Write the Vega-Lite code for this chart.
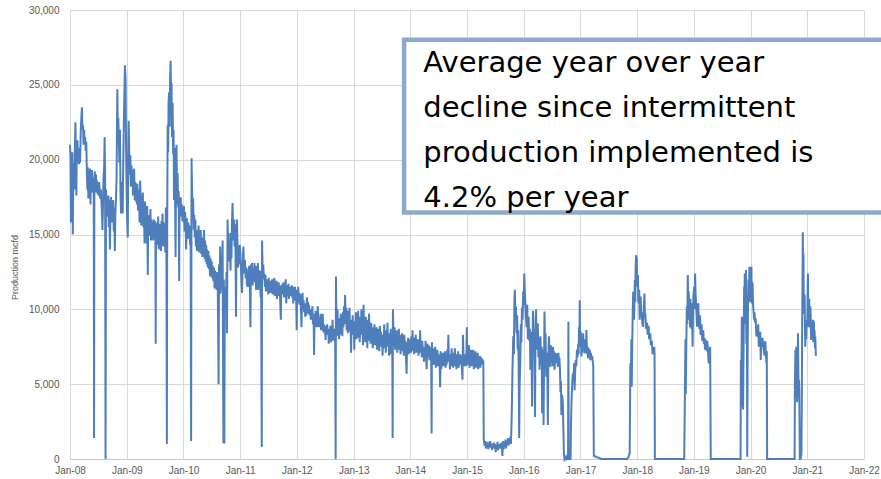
{
"$schema": "https://vega.github.io/schema/vega-lite/v6.json",
"width": 794, "height": 449,
"autosize": "none",
"padding": {"left": 70, "top": 10, "right": 17, "bottom": 20},
"background": "white",
"config": {"view": {"stroke": null}, "axis": {"gridColor": "#d9d9d9", "gridWidth": 1, "labelColor": "#595959", "labelFont": "Liberation Sans", "labelFontSize": 10, "ticks": false, "domain": false, "titleFont": "Liberation Sans", "titleFontWeight": "normal", "titleColor": "#595959"},
 "axisX": {"format": "%b-%y", "formatType": "utc", "labelPadding": 6, "domain": true, "domainColor": "#c8c8c8", "labelFlush": false, "labelOverlap": false},
 "axisY": {"format": ",.0f", "labelPadding": 11, "titleFontSize": 9, "titleX": -56, "titleY": 257, "titleBaseline": "middle", "tickCount": 6}},
"layer": [
{
"data": {"values": [
{"d":"2008-01-01","v":21000},{"d":"2008-01-04","v":20200},{"d":"2008-01-07","v":15800},{"d":"2008-01-10","v":19500},{"d":"2008-01-13","v":17800},{"d":"2008-01-16","v":20500},{"d":"2008-01-19","v":15000},{"d":"2008-01-22","v":18500},{"d":"2008-01-25","v":19800},{"d":"2008-01-29","v":18000},
{"d":"2008-02-01","v":20500},{"d":"2008-02-05","v":22500},{"d":"2008-02-08","v":19500},{"d":"2008-02-11","v":17600},{"d":"2008-02-14","v":21000},{"d":"2008-02-18","v":21300},{"d":"2008-02-21","v":19800},{"d":"2008-02-25","v":20800},{"d":"2008-02-28","v":19700},
{"d":"2008-03-03","v":20500},{"d":"2008-03-06","v":19800},{"d":"2008-03-10","v":21800},{"d":"2008-03-14","v":22800},{"d":"2008-03-18","v":23500},{"d":"2008-03-21","v":22000},{"d":"2008-03-25","v":22300},{"d":"2008-03-28","v":21000},
{"d":"2008-04-01","v":22000},{"d":"2008-04-04","v":21200},{"d":"2008-04-08","v":21500},{"d":"2008-04-11","v":20600},{"d":"2008-04-15","v":21200},{"d":"2008-04-18","v":19500},{"d":"2008-04-22","v":18000},{"d":"2008-04-25","v":19500},{"d":"2008-04-28","v":17400},
{"d":"2008-05-02","v":19000},{"d":"2008-05-05","v":18200},{"d":"2008-05-09","v":19400},{"d":"2008-05-12","v":17000},{"d":"2008-05-15","v":19200},{"d":"2008-05-19","v":18000},{"d":"2008-05-22","v":19300},{"d":"2008-05-26","v":17800},{"d":"2008-05-29","v":18800},
{"d":"2008-06-02","v":17500},{"d":"2008-06-04","v":1400},{"d":"2008-06-06","v":18200},{"d":"2008-06-09","v":19200},{"d":"2008-06-13","v":17800},{"d":"2008-06-16","v":19000},{"d":"2008-06-20","v":18000},{"d":"2008-06-23","v":18600},{"d":"2008-06-27","v":17700},{"d":"2008-06-30","v":18200},
{"d":"2008-07-04","v":17600},{"d":"2008-07-07","v":18500},{"d":"2008-07-11","v":17700},{"d":"2008-07-14","v":17400},{"d":"2008-07-18","v":18000},{"d":"2008-07-21","v":17300},{"d":"2008-07-25","v":16400},{"d":"2008-07-28","v":15300},
{"d":"2008-08-01","v":17200},{"d":"2008-08-04","v":18800},{"d":"2008-08-08","v":19500},{"d":"2008-08-11","v":21500},{"d":"2008-08-14","v":19000},{"d":"2008-08-17","v":0},{"d":"2008-08-20","v":18000},{"d":"2008-08-24","v":16500},{"d":"2008-08-27","v":17500},{"d":"2008-08-31","v":16200},
{"d":"2008-09-04","v":17600},{"d":"2008-09-07","v":15500},{"d":"2008-09-11","v":17300},{"d":"2008-09-14","v":14000},{"d":"2008-09-18","v":16800},{"d":"2008-09-21","v":17500},{"d":"2008-09-25","v":15800},{"d":"2008-09-28","v":17200},
{"d":"2008-10-02","v":16400},{"d":"2008-10-05","v":17300},{"d":"2008-10-09","v":15200},{"d":"2008-10-12","v":16800},{"d":"2008-10-16","v":13900},{"d":"2008-10-19","v":16400},{"d":"2008-10-23","v":17300},{"d":"2008-10-27","v":18800},{"d":"2008-10-30","v":22500},
{"d":"2008-11-01","v":24700},{"d":"2008-11-04","v":21000},{"d":"2008-11-07","v":22800},{"d":"2008-11-11","v":21300},{"d":"2008-11-14","v":19800},{"d":"2008-11-18","v":22000},{"d":"2008-11-21","v":17800},{"d":"2008-11-25","v":16400},{"d":"2008-11-28","v":18500},
{"d":"2008-12-02","v":17500},{"d":"2008-12-05","v":16400},{"d":"2008-12-09","v":19800},{"d":"2008-12-13","v":22500},{"d":"2008-12-17","v":24800},{"d":"2008-12-20","v":26300},{"d":"2008-12-24","v":25300},{"d":"2008-12-27","v":21000},{"d":"2008-12-30","v":18500},
{"d":"2009-01-03","v":16000},{"d":"2009-01-07","v":14800},{"d":"2009-01-10","v":20200},{"d":"2009-01-13","v":22600},{"d":"2009-01-17","v":20000},{"d":"2009-01-20","v":19000},{"d":"2009-01-24","v":20300},{"d":"2009-01-27","v":18200},{"d":"2009-01-31","v":19600},
{"d":"2009-02-03","v":18500},{"d":"2009-02-07","v":19300},{"d":"2009-02-10","v":17600},{"d":"2009-02-14","v":18800},{"d":"2009-02-17","v":19400},{"d":"2009-02-21","v":17300},{"d":"2009-02-24","v":18500},{"d":"2009-02-28","v":17200},
{"d":"2009-03-03","v":18300},{"d":"2009-03-07","v":17000},{"d":"2009-03-10","v":18400},{"d":"2009-03-14","v":16600},{"d":"2009-03-17","v":17600},{"d":"2009-03-21","v":18000},{"d":"2009-03-24","v":15800},{"d":"2009-03-28","v":18600},{"d":"2009-03-31","v":17300},
{"d":"2009-04-04","v":15600},{"d":"2009-04-07","v":17600},{"d":"2009-04-11","v":16400},{"d":"2009-04-14","v":17800},{"d":"2009-04-18","v":15500},{"d":"2009-04-21","v":17000},{"d":"2009-04-25","v":14400},{"d":"2009-04-28","v":17200},
{"d":"2009-05-02","v":15400},{"d":"2009-05-05","v":16200},{"d":"2009-05-09","v":14400},{"d":"2009-05-12","v":16900},{"d":"2009-05-16","v":12300},{"d":"2009-05-19","v":16300},{"d":"2009-05-23","v":14900},{"d":"2009-05-27","v":16000},{"d":"2009-05-30","v":15400},
{"d":"2009-06-02","v":16700},{"d":"2009-06-06","v":14600},{"d":"2009-06-09","v":16000},{"d":"2009-06-13","v":15100},{"d":"2009-06-16","v":15800},{"d":"2009-06-20","v":14600},{"d":"2009-06-24","v":16000},{"d":"2009-06-27","v":15300},
{"d":"2009-07-01","v":15900},{"d":"2009-07-04","v":14800},{"d":"2009-07-06","v":7700},{"d":"2009-07-08","v":15500},{"d":"2009-07-12","v":14900},{"d":"2009-07-15","v":15800},{"d":"2009-07-19","v":14300},{"d":"2009-07-22","v":16200},{"d":"2009-07-26","v":14000},{"d":"2009-07-29","v":15500},
{"d":"2009-08-02","v":14400},{"d":"2009-08-05","v":15700},{"d":"2009-08-09","v":13900},{"d":"2009-08-12","v":15900},{"d":"2009-08-16","v":14600},{"d":"2009-08-19","v":16400},{"d":"2009-08-23","v":14200},{"d":"2009-08-26","v":15800},{"d":"2009-08-30","v":14500},
{"d":"2009-09-02","v":15500},{"d":"2009-09-06","v":13800},{"d":"2009-09-10","v":16800},{"d":"2009-09-13","v":14000},{"d":"2009-09-16","v":1000},{"d":"2009-09-18","v":15500},{"d":"2009-09-21","v":22300},{"d":"2009-09-24","v":20500},{"d":"2009-09-27","v":23800},{"d":"2009-09-30","v":24500},
{"d":"2009-10-04","v":22200},{"d":"2009-10-07","v":25500},{"d":"2009-10-10","v":26600},{"d":"2009-10-13","v":24200},{"d":"2009-10-16","v":25100},{"d":"2009-10-19","v":21500},{"d":"2009-10-23","v":23800},{"d":"2009-10-26","v":20400},{"d":"2009-10-29","v":22000},
{"d":"2009-11-01","v":17300},{"d":"2009-11-04","v":20800},{"d":"2009-11-07","v":18300},{"d":"2009-11-11","v":13500},{"d":"2009-11-14","v":18900},{"d":"2009-11-17","v":21000},{"d":"2009-11-21","v":17000},{"d":"2009-11-24","v":19100},{"d":"2009-11-28","v":16800},
{"d":"2009-12-01","v":17900},{"d":"2009-12-04","v":11900},{"d":"2009-12-07","v":17200},{"d":"2009-12-11","v":16200},{"d":"2009-12-14","v":17500},{"d":"2009-12-18","v":16300},{"d":"2009-12-21","v":17000},{"d":"2009-12-25","v":15900},{"d":"2009-12-28","v":16800},
{"d":"2010-01-01","v":15800},{"d":"2010-01-04","v":16900},{"d":"2010-01-08","v":15200},{"d":"2010-01-11","v":16500},{"d":"2010-01-15","v":15700},{"d":"2010-01-18","v":14000},{"d":"2010-01-22","v":16100},{"d":"2010-01-25","v":15300},{"d":"2010-01-29","v":14700},
{"d":"2010-02-01","v":15800},{"d":"2010-02-05","v":14900},{"d":"2010-02-09","v":15600},{"d":"2010-02-13","v":14300},{"d":"2010-02-16","v":15000},{"d":"2010-02-19","v":1200},{"d":"2010-02-22","v":20100},{"d":"2010-02-25","v":18000},
{"d":"2010-03-01","v":16500},{"d":"2010-03-04","v":17400},{"d":"2010-03-08","v":15300},{"d":"2010-03-11","v":16300},{"d":"2010-03-15","v":14800},{"d":"2010-03-18","v":16000},{"d":"2010-03-22","v":14200},{"d":"2010-03-25","v":15300},{"d":"2010-03-29","v":13900},
{"d":"2010-04-01","v":15100},{"d":"2010-04-05","v":14400},{"d":"2010-04-08","v":15600},{"d":"2010-04-12","v":13800},{"d":"2010-04-15","v":15100},{"d":"2010-04-19","v":14400},{"d":"2010-04-22","v":15300},{"d":"2010-04-26","v":13700},{"d":"2010-04-29","v":14800},
{"d":"2010-05-03","v":13500},{"d":"2010-05-06","v":14800},{"d":"2010-05-10","v":13900},{"d":"2010-05-13","v":15300},{"d":"2010-05-17","v":13400},{"d":"2010-05-20","v":14600},{"d":"2010-05-24","v":13200},{"d":"2010-05-27","v":14300},{"d":"2010-05-31","v":13000},
{"d":"2010-06-03","v":14000},{"d":"2010-06-07","v":12800},{"d":"2010-06-10","v":13900},{"d":"2010-06-14","v":12700},{"d":"2010-06-17","v":13600},{"d":"2010-06-21","v":12200},{"d":"2010-06-24","v":13400},{"d":"2010-06-28","v":12600},
{"d":"2010-07-02","v":13200},{"d":"2010-07-05","v":12100},{"d":"2010-07-09","v":12900},{"d":"2010-07-12","v":11900},{"d":"2010-07-16","v":12800},{"d":"2010-07-20","v":11400},{"d":"2010-07-23","v":12600},{"d":"2010-07-26","v":11800},{"d":"2010-07-30","v":12400},
{"d":"2010-08-02","v":11300},{"d":"2010-08-06","v":12500},{"d":"2010-08-10","v":11400},{"d":"2010-08-15","v":5000},{"d":"2010-08-18","v":13000},{"d":"2010-08-22","v":11000},{"d":"2010-08-25","v":14200},{"d":"2010-08-28","v":11100},
{"d":"2010-09-01","v":13000},{"d":"2010-09-05","v":11800},{"d":"2010-09-10","v":14600},{"d":"2010-09-15","v":1050},{"d":"2010-09-18","v":12000},{"d":"2010-09-21","v":1030},{"d":"2010-09-24","v":11500},{"d":"2010-09-28","v":10800},
{"d":"2010-10-02","v":10800},{"d":"2010-10-05","v":12500},{"d":"2010-10-08","v":8400},{"d":"2010-10-12","v":16000},{"d":"2010-10-15","v":14200},{"d":"2010-10-19","v":15100},{"d":"2010-10-22","v":13200},{"d":"2010-10-25","v":14000},{"d":"2010-10-28","v":13900},{"d":"2010-10-31","v":12600},
{"d":"2010-11-03","v":15100},{"d":"2010-11-06","v":13400},{"d":"2010-11-09","v":15800},{"d":"2010-11-13","v":17100},{"d":"2010-11-16","v":15300},{"d":"2010-11-20","v":14600},{"d":"2010-11-23","v":16000},{"d":"2010-11-26","v":14200},{"d":"2010-11-29","v":15700},
{"d":"2010-12-02","v":13800},{"d":"2010-12-05","v":9500},{"d":"2010-12-08","v":14500},{"d":"2010-12-11","v":16000},{"d":"2010-12-15","v":14300},{"d":"2010-12-18","v":12800},{"d":"2010-12-22","v":14200},{"d":"2010-12-25","v":13000},{"d":"2010-12-29","v":14300},
{"d":"2011-01-01","v":14000},{"d":"2011-01-05","v":13000},{"d":"2011-01-09","v":12000},{"d":"2011-01-13","v":11100},{"d":"2011-01-17","v":13000},{"d":"2011-01-22","v":14200},{"d":"2011-01-26","v":12400},
{"d":"2011-02-01","v":13300},{"d":"2011-02-05","v":12100},{"d":"2011-02-09","v":12800},{"d":"2011-02-13","v":11700},{"d":"2011-02-19","v":11500},{"d":"2011-02-23","v":12600},
{"d":"2011-03-01","v":12900},{"d":"2011-03-04","v":11800},{"d":"2011-03-08","v":8800},{"d":"2011-03-11","v":13000},{"d":"2011-03-15","v":12000},{"d":"2011-03-18","v":13100},{"d":"2011-03-22","v":11600},{"d":"2011-03-26","v":12700},{"d":"2011-03-30","v":11900},
{"d":"2011-04-03","v":13100},{"d":"2011-04-07","v":11800},{"d":"2011-04-10","v":12600},{"d":"2011-04-14","v":11300},{"d":"2011-04-17","v":12900},{"d":"2011-04-21","v":11800},{"d":"2011-04-25","v":13100},{"d":"2011-04-28","v":11300},
{"d":"2011-05-02","v":12400},{"d":"2011-05-05","v":11700},{"d":"2011-05-09","v":12600},{"d":"2011-05-13","v":10800},{"d":"2011-05-16","v":11900},{"d":"2011-05-20","v":800},{"d":"2011-05-22","v":14600},{"d":"2011-05-26","v":12400},{"d":"2011-05-30","v":13000},
{"d":"2011-06-02","v":12000},{"d":"2011-06-06","v":12400},{"d":"2011-06-09","v":11500},{"d":"2011-06-13","v":12300},{"d":"2011-06-16","v":11200},{"d":"2011-06-20","v":12000},{"d":"2011-06-23","v":11300},{"d":"2011-06-27","v":11800},
{"d":"2011-07-01","v":11000},{"d":"2011-07-04","v":12100},{"d":"2011-07-08","v":11200},{"d":"2011-07-11","v":11700},{"d":"2011-07-15","v":11100},{"d":"2011-07-18","v":11900},{"d":"2011-07-22","v":11500},{"d":"2011-07-26","v":12000},{"d":"2011-07-29","v":11000},
{"d":"2011-08-02","v":11800},{"d":"2011-08-05","v":11300},{"d":"2011-08-09","v":12100},{"d":"2011-08-12","v":10900},{"d":"2011-08-16","v":11700},{"d":"2011-08-19","v":11200},{"d":"2011-08-23","v":11900},{"d":"2011-08-26","v":10700},{"d":"2011-08-30","v":11500},
{"d":"2011-09-02","v":11100},{"d":"2011-09-06","v":11800},{"d":"2011-09-09","v":10900},{"d":"2011-09-13","v":11600},{"d":"2011-09-16","v":10500},{"d":"2011-09-20","v":9300},{"d":"2011-09-23","v":11600},{"d":"2011-09-27","v":11000},{"d":"2011-09-30","v":11700},
{"d":"2011-10-04","v":11100},{"d":"2011-10-07","v":11800},{"d":"2011-10-11","v":10800},{"d":"2011-10-14","v":11400},{"d":"2011-10-18","v":11000},{"d":"2011-10-21","v":12000},{"d":"2011-10-25","v":10400},{"d":"2011-10-28","v":11300},
{"d":"2011-11-01","v":11600},{"d":"2011-11-04","v":10900},{"d":"2011-11-08","v":11700},{"d":"2011-11-11","v":10700},{"d":"2011-11-15","v":11500},{"d":"2011-11-18","v":10900},{"d":"2011-11-22","v":11400},{"d":"2011-11-25","v":11000},{"d":"2011-11-29","v":11600},
{"d":"2011-12-02","v":10800},{"d":"2011-12-06","v":11500},{"d":"2011-12-09","v":10400},{"d":"2011-12-13","v":11200},{"d":"2011-12-16","v":11000},{"d":"2011-12-20","v":11500},{"d":"2011-12-23","v":10600},{"d":"2011-12-27","v":11300},{"d":"2011-12-31","v":8600},
{"d":"2012-01-03","v":11000},{"d":"2012-01-06","v":10400},{"d":"2012-01-10","v":11500},{"d":"2012-01-13","v":10700},{"d":"2012-01-17","v":11100},{"d":"2012-01-20","v":10300},{"d":"2012-01-24","v":11000},{"d":"2012-01-27","v":10100},{"d":"2012-01-31","v":8800},
{"d":"2012-02-03","v":10600},{"d":"2012-02-07","v":11100},{"d":"2012-02-10","v":10000},{"d":"2012-02-14","v":10600},{"d":"2012-02-17","v":9800},{"d":"2012-02-21","v":10400},{"d":"2012-02-24","v":9500},{"d":"2012-02-28","v":10100},
{"d":"2012-03-02","v":9600},{"d":"2012-03-06","v":10800},{"d":"2012-03-09","v":9900},{"d":"2012-03-13","v":10500},{"d":"2012-03-16","v":9700},{"d":"2012-03-20","v":10300},{"d":"2012-03-23","v":9600},{"d":"2012-03-27","v":10000},{"d":"2012-03-31","v":9300},
{"d":"2012-04-03","v":9900},{"d":"2012-04-07","v":9400},{"d":"2012-04-10","v":10200},{"d":"2012-04-14","v":9000},{"d":"2012-04-18","v":9700},{"d":"2012-04-21","v":6950},{"d":"2012-04-24","v":9700},{"d":"2012-04-28","v":9000},
{"d":"2012-05-01","v":9900},{"d":"2012-05-05","v":8800},{"d":"2012-05-08","v":9500},{"d":"2012-05-12","v":8900},{"d":"2012-05-15","v":10200},{"d":"2012-05-19","v":8800},{"d":"2012-05-22","v":9300},{"d":"2012-05-26","v":9500},{"d":"2012-05-29","v":8800},
{"d":"2012-06-02","v":9700},{"d":"2012-06-05","v":8600},{"d":"2012-06-09","v":9300},{"d":"2012-06-12","v":8700},{"d":"2012-06-16","v":9700},{"d":"2012-06-19","v":8500},{"d":"2012-06-23","v":9000},{"d":"2012-06-26","v":8400},{"d":"2012-06-30","v":8900},
{"d":"2012-07-04","v":7950},{"d":"2012-07-07","v":8800},{"d":"2012-07-11","v":8300},{"d":"2012-07-14","v":9000},{"d":"2012-07-18","v":8400},{"d":"2012-07-21","v":8700},{"d":"2012-07-25","v":7700},{"d":"2012-07-28","v":8600},
{"d":"2012-08-01","v":8200},{"d":"2012-08-04","v":8900},{"d":"2012-08-08","v":7800},{"d":"2012-08-11","v":8600},{"d":"2012-08-15","v":8200},{"d":"2012-08-18","v":9300},{"d":"2012-08-22","v":7900},{"d":"2012-08-25","v":8500},{"d":"2012-08-29","v":8000},
{"d":"2012-09-01","v":8700},{"d":"2012-09-04","v":7900},{"d":"2012-09-07","v":0},{"d":"2012-09-09","v":12200},{"d":"2012-09-12","v":9200},{"d":"2012-09-15","v":8300},{"d":"2012-09-19","v":10000},{"d":"2012-09-22","v":8200},{"d":"2012-09-26","v":9400},{"d":"2012-09-29","v":8000},
{"d":"2012-10-03","v":9100},{"d":"2012-10-06","v":8300},{"d":"2012-10-10","v":9700},{"d":"2012-10-13","v":8600},{"d":"2012-10-17","v":9300},{"d":"2012-10-20","v":8200},{"d":"2012-10-24","v":9800},{"d":"2012-10-27","v":8800},{"d":"2012-10-31","v":10200},
{"d":"2012-11-03","v":9000},{"d":"2012-11-07","v":10950},{"d":"2012-11-10","v":9400},{"d":"2012-11-14","v":10100},{"d":"2012-11-17","v":8600},{"d":"2012-11-21","v":9900},{"d":"2012-11-24","v":8400},{"d":"2012-11-28","v":9500},
{"d":"2012-12-01","v":8500},{"d":"2012-12-05","v":10100},{"d":"2012-12-08","v":8700},{"d":"2012-12-12","v":9300},{"d":"2012-12-15","v":7100},{"d":"2012-12-19","v":9200},{"d":"2012-12-22","v":8400},{"d":"2012-12-26","v":9600},{"d":"2012-12-29","v":8300},
{"d":"2013-01-02","v":9000},{"d":"2013-01-05","v":7300},{"d":"2013-01-09","v":9200},{"d":"2013-01-12","v":8300},{"d":"2013-01-16","v":9800},{"d":"2013-01-19","v":8000},{"d":"2013-01-23","v":9400},{"d":"2013-01-26","v":8700},{"d":"2013-01-30","v":9900},
{"d":"2013-02-02","v":8100},{"d":"2013-02-06","v":9500},{"d":"2013-02-09","v":7800},{"d":"2013-02-13","v":9200},{"d":"2013-02-16","v":8500},{"d":"2013-02-20","v":10000},{"d":"2013-02-23","v":8300},{"d":"2013-02-27","v":9100},
{"d":"2013-03-02","v":7600},{"d":"2013-03-06","v":10300},{"d":"2013-03-09","v":8400},{"d":"2013-03-13","v":9300},{"d":"2013-03-16","v":7800},{"d":"2013-03-20","v":9500},{"d":"2013-03-23","v":8200},{"d":"2013-03-27","v":9000},{"d":"2013-03-30","v":7400},
{"d":"2013-04-03","v":9300},{"d":"2013-04-06","v":8100},{"d":"2013-04-10","v":9700},{"d":"2013-04-13","v":7900},{"d":"2013-04-17","v":8900},{"d":"2013-04-20","v":7700},{"d":"2013-04-24","v":9100},{"d":"2013-04-27","v":8200},
{"d":"2013-05-01","v":8800},{"d":"2013-05-04","v":7400},{"d":"2013-05-08","v":8600},{"d":"2013-05-11","v":7900},{"d":"2013-05-15","v":9000},{"d":"2013-05-18","v":7600},{"d":"2013-05-22","v":8500},{"d":"2013-05-25","v":8000},{"d":"2013-05-29","v":8800},
{"d":"2013-06-01","v":7300},{"d":"2013-06-05","v":8700},{"d":"2013-06-08","v":7800},{"d":"2013-06-12","v":8400},{"d":"2013-06-15","v":7200},{"d":"2013-06-19","v":8900},{"d":"2013-06-22","v":7900},{"d":"2013-06-26","v":8500},{"d":"2013-06-29","v":7500},
{"d":"2013-07-03","v":8300},{"d":"2013-07-06","v":6900},{"d":"2013-07-10","v":8200},{"d":"2013-07-13","v":7700},{"d":"2013-07-17","v":9000},{"d":"2013-07-20","v":7400},{"d":"2013-07-24","v":8600},{"d":"2013-07-27","v":7100},{"d":"2013-07-31","v":8300},
{"d":"2013-08-03","v":7600},{"d":"2013-08-07","v":9100},{"d":"2013-08-10","v":7500},{"d":"2013-08-14","v":8400},{"d":"2013-08-17","v":6900},{"d":"2013-08-21","v":8200},{"d":"2013-08-24","v":7600},{"d":"2013-08-28","v":8700},{"d":"2013-08-31","v":7000},
{"d":"2013-09-04","v":8100},{"d":"2013-09-07","v":6800},{"d":"2013-09-09","v":1400},{"d":"2013-09-11","v":10000},{"d":"2013-09-14","v":8300},{"d":"2013-09-18","v":7500},{"d":"2013-09-21","v":8800},{"d":"2013-09-25","v":7300},{"d":"2013-09-28","v":8500},
{"d":"2013-10-02","v":7700},{"d":"2013-10-05","v":8600},{"d":"2013-10-09","v":7100},{"d":"2013-10-12","v":8200},{"d":"2013-10-16","v":7500},{"d":"2013-10-19","v":8700},{"d":"2013-10-23","v":7300},{"d":"2013-10-26","v":8300},{"d":"2013-10-30","v":7000},
{"d":"2013-11-02","v":8100},{"d":"2013-11-06","v":7600},{"d":"2013-11-09","v":8400},{"d":"2013-11-13","v":7200},{"d":"2013-11-16","v":8000},{"d":"2013-11-20","v":6900},{"d":"2013-11-23","v":8300},{"d":"2013-11-27","v":7400},{"d":"2013-11-30","v":7900},
{"d":"2013-12-04","v":6800},{"d":"2013-12-08","v":5700},{"d":"2013-12-11","v":7800},{"d":"2013-12-15","v":7200},{"d":"2013-12-18","v":8100},{"d":"2013-12-22","v":7000},{"d":"2013-12-25","v":7800},{"d":"2013-12-29","v":7200},
{"d":"2014-01-01","v":8000},{"d":"2014-01-05","v":7100},{"d":"2014-01-08","v":8200},{"d":"2014-01-12","v":7300},{"d":"2014-01-15","v":8600},{"d":"2014-01-19","v":7200},{"d":"2014-01-22","v":7900},{"d":"2014-01-26","v":7000},{"d":"2014-01-29","v":8100},
{"d":"2014-02-02","v":7400},{"d":"2014-02-05","v":8300},{"d":"2014-02-09","v":7100},{"d":"2014-02-12","v":7700},{"d":"2014-02-16","v":7300},{"d":"2014-02-19","v":8000},{"d":"2014-02-23","v":6900},{"d":"2014-02-26","v":7800},
{"d":"2014-03-02","v":7100},{"d":"2014-03-05","v":8600},{"d":"2014-03-09","v":7200},{"d":"2014-03-12","v":7600},{"d":"2014-03-16","v":6800},{"d":"2014-03-19","v":7900},{"d":"2014-03-23","v":7000},{"d":"2014-03-26","v":7500},{"d":"2014-03-30","v":6500},
{"d":"2014-04-02","v":7300},{"d":"2014-04-06","v":6700},{"d":"2014-04-09","v":7900},{"d":"2014-04-13","v":6900},{"d":"2014-04-16","v":6000},{"d":"2014-04-20","v":7700},{"d":"2014-04-24","v":7400},{"d":"2014-04-27","v":6800},
{"d":"2014-05-01","v":7600},{"d":"2014-05-04","v":6600},{"d":"2014-05-08","v":7300},{"d":"2014-05-11","v":6900},{"d":"2014-05-15","v":7500},{"d":"2014-05-18","v":1700},{"d":"2014-05-20","v":7800},{"d":"2014-05-24","v":6700},{"d":"2014-05-27","v":7400},{"d":"2014-05-31","v":6300},
{"d":"2014-06-03","v":7200},{"d":"2014-06-07","v":6600},{"d":"2014-06-10","v":7500},{"d":"2014-06-14","v":6100},{"d":"2014-06-17","v":7000},{"d":"2014-06-21","v":6500},{"d":"2014-06-24","v":7300},{"d":"2014-06-28","v":6200},
{"d":"2014-07-01","v":7000},{"d":"2014-07-05","v":6400},{"d":"2014-07-08","v":6900},{"d":"2014-07-12","v":4800},{"d":"2014-07-15","v":7200},{"d":"2014-07-19","v":6000},{"d":"2014-07-22","v":6800},{"d":"2014-07-26","v":6400},{"d":"2014-07-29","v":7100},
{"d":"2014-08-02","v":6200},{"d":"2014-08-05","v":6900},{"d":"2014-08-09","v":6400},{"d":"2014-08-12","v":7200},{"d":"2014-08-16","v":6100},{"d":"2014-08-19","v":6700},{"d":"2014-08-23","v":6300},{"d":"2014-08-27","v":7300},{"d":"2014-08-30","v":6500},
{"d":"2014-09-03","v":8300},{"d":"2014-09-06","v":6600},{"d":"2014-09-10","v":7000},{"d":"2014-09-13","v":6000},{"d":"2014-09-17","v":6800},{"d":"2014-09-20","v":6300},{"d":"2014-09-24","v":7400},{"d":"2014-09-27","v":6200},
{"d":"2014-10-01","v":6900},{"d":"2014-10-04","v":6100},{"d":"2014-10-08","v":7100},{"d":"2014-10-11","v":6500},{"d":"2014-10-15","v":7400},{"d":"2014-10-18","v":6200},{"d":"2014-10-22","v":6800},{"d":"2014-10-25","v":6000},{"d":"2014-10-29","v":7000},
{"d":"2014-11-01","v":6400},{"d":"2014-11-05","v":7200},{"d":"2014-11-08","v":6100},{"d":"2014-11-12","v":6700},{"d":"2014-11-15","v":6300},{"d":"2014-11-19","v":7000},{"d":"2014-11-22","v":6400},{"d":"2014-11-26","v":6900},{"d":"2014-11-29","v":6100},
{"d":"2014-12-03","v":5300},{"d":"2014-12-06","v":8300},{"d":"2014-12-10","v":6800},{"d":"2014-12-13","v":6200},{"d":"2014-12-17","v":7000},{"d":"2014-12-20","v":6300},{"d":"2014-12-24","v":6900},{"d":"2014-12-27","v":6200},{"d":"2014-12-31","v":8800},
{"d":"2015-01-03","v":6600},{"d":"2015-01-07","v":7200},{"d":"2015-01-10","v":6300},{"d":"2015-01-14","v":7600},{"d":"2015-01-17","v":6100},{"d":"2015-01-21","v":7000},{"d":"2015-01-24","v":6400},{"d":"2015-01-28","v":7300},{"d":"2015-01-31","v":6200},
{"d":"2015-02-04","v":7100},{"d":"2015-02-07","v":6500},{"d":"2015-02-11","v":7300},{"d":"2015-02-14","v":6000},{"d":"2015-02-18","v":6800},{"d":"2015-02-21","v":6400},{"d":"2015-02-25","v":7200},{"d":"2015-02-28","v":6100},
{"d":"2015-03-04","v":6900},{"d":"2015-03-07","v":6300},{"d":"2015-03-11","v":7100},{"d":"2015-03-14","v":6000},{"d":"2015-03-18","v":6700},{"d":"2015-03-21","v":6200},{"d":"2015-03-25","v":6900},{"d":"2015-03-28","v":6100},
{"d":"2015-04-01","v":6800},{"d":"2015-04-04","v":6300},{"d":"2015-04-08","v":6700},{"d":"2015-04-12","v":6500},{"d":"2015-04-16","v":6600},{"d":"2015-04-19","v":1300},{"d":"2015-04-24","v":900},{"d":"2015-04-28","v":1200},
{"d":"2015-05-02","v":700},{"d":"2015-05-06","v":1100},{"d":"2015-05-10","v":800},{"d":"2015-05-14","v":1150},{"d":"2015-05-18","v":650},{"d":"2015-05-22","v":1000},{"d":"2015-05-26","v":850},{"d":"2015-05-30","v":1200},
{"d":"2015-06-03","v":750},{"d":"2015-06-07","v":1050},{"d":"2015-06-11","v":600},{"d":"2015-06-15","v":950},{"d":"2015-06-19","v":800},{"d":"2015-06-23","v":1100},{"d":"2015-06-27","v":700},
{"d":"2015-07-01","v":1000},{"d":"2015-07-05","v":450},{"d":"2015-07-09","v":900},{"d":"2015-07-13","v":800},{"d":"2015-07-17","v":1150},{"d":"2015-07-21","v":600},{"d":"2015-07-25","v":950},{"d":"2015-07-29","v":750},
{"d":"2015-08-02","v":1000},{"d":"2015-08-06","v":700},{"d":"2015-08-10","v":1100},{"d":"2015-08-14","v":800},{"d":"2015-08-17","v":200},{"d":"2015-08-21","v":1200},{"d":"2015-08-25","v":650},{"d":"2015-08-29","v":1050},
{"d":"2015-09-02","v":900},{"d":"2015-09-06","v":1300},{"d":"2015-09-10","v":700},{"d":"2015-09-14","v":1200},{"d":"2015-09-18","v":1000},{"d":"2015-09-22","v":1400},{"d":"2015-09-26","v":900},{"d":"2015-09-30","v":1300},
{"d":"2015-10-04","v":1100},{"d":"2015-10-08","v":1500},{"d":"2015-10-11","v":1000},{"d":"2015-10-16","v":2900},{"d":"2015-10-21","v":6000},{"d":"2015-10-26","v":8200},{"d":"2015-10-30","v":7000},
{"d":"2015-11-02","v":10500},{"d":"2015-11-05","v":11300},{"d":"2015-11-09","v":9300},{"d":"2015-11-12","v":10200},{"d":"2015-11-16","v":8400},{"d":"2015-11-20","v":9600},{"d":"2015-11-23","v":7300},{"d":"2015-11-27","v":8600},{"d":"2015-11-30","v":6000},
{"d":"2015-12-03","v":1400},{"d":"2015-12-06","v":5000},{"d":"2015-12-10","v":6400},{"d":"2015-12-14","v":9000},{"d":"2015-12-17","v":7800},{"d":"2015-12-21","v":10100},{"d":"2015-12-25","v":9300},{"d":"2015-12-29","v":11200},
{"d":"2016-01-01","v":10300},{"d":"2016-01-05","v":12400},{"d":"2016-01-08","v":11300},{"d":"2016-01-11","v":10600},{"d":"2016-01-15","v":9600},{"d":"2016-01-20","v":8800},{"d":"2016-01-24","v":10300},{"d":"2016-01-28","v":8000},
{"d":"2016-02-02","v":9500},{"d":"2016-02-06","v":7900},{"d":"2016-02-10","v":8700},{"d":"2016-02-13","v":5960},{"d":"2016-02-17","v":8500},{"d":"2016-02-21","v":6900},{"d":"2016-02-24","v":3500},{"d":"2016-02-27","v":7600},
{"d":"2016-03-01","v":9900},{"d":"2016-03-03","v":9500},{"d":"2016-03-07","v":7200},{"d":"2016-03-10","v":8400},{"d":"2016-03-14","v":2800},{"d":"2016-03-17","v":8000},{"d":"2016-03-21","v":10000},{"d":"2016-03-24","v":7300},{"d":"2016-03-28","v":8700},
{"d":"2016-04-01","v":9060},{"d":"2016-04-05","v":6800},{"d":"2016-04-09","v":8100},{"d":"2016-04-12","v":5960},{"d":"2016-04-15","v":7700},{"d":"2016-04-18","v":8200},{"d":"2016-04-22","v":6300},{"d":"2016-04-26","v":7500},{"d":"2016-04-29","v":3050},
{"d":"2016-05-02","v":6400},{"d":"2016-05-05","v":7300},{"d":"2016-05-08","v":2270},{"d":"2016-05-11","v":6000},{"d":"2016-05-14","v":9860},{"d":"2016-05-18","v":7400},{"d":"2016-05-21","v":8400},{"d":"2016-05-25","v":5500},{"d":"2016-05-28","v":7100},
{"d":"2016-06-01","v":6300},{"d":"2016-06-05","v":2270},{"d":"2016-06-08","v":7000},{"d":"2016-06-12","v":8200},{"d":"2016-06-16","v":6500},{"d":"2016-06-20","v":6170},{"d":"2016-06-24","v":7600},{"d":"2016-06-28","v":6600},
{"d":"2016-07-02","v":7300},{"d":"2016-07-05","v":6200},{"d":"2016-07-08","v":7500},{"d":"2016-07-12","v":6500},{"d":"2016-07-15","v":7200},{"d":"2016-07-18","v":5960},{"d":"2016-07-22","v":7100},{"d":"2016-07-25","v":6500},{"d":"2016-07-29","v":7060},
{"d":"2016-08-01","v":6400},{"d":"2016-08-05","v":6900},{"d":"2016-08-08","v":6170},{"d":"2016-08-12","v":7100},{"d":"2016-08-15","v":6300},{"d":"2016-08-18","v":6800},{"d":"2016-08-22","v":5900},{"d":"2016-08-25","v":4480},{"d":"2016-08-28","v":5200},{"d":"2016-08-31","v":2940},
{"d":"2016-09-04","v":4300},{"d":"2016-09-09","v":3800},{"d":"2016-09-13","v":2000},{"d":"2016-09-16","v":370},{"d":"2016-09-20","v":0},{"d":"2016-09-25","v":100},{"d":"2016-09-30","v":0},
{"d":"2016-10-05","v":150},{"d":"2016-10-09","v":0},{"d":"2016-10-13","v":0},{"d":"2016-10-15","v":9170},{"d":"2016-10-17","v":400},{"d":"2016-10-20","v":380},{"d":"2016-10-24","v":0},{"d":"2016-10-29","v":0},
{"d":"2016-11-01","v":2500},{"d":"2016-11-05","v":4140},{"d":"2016-11-09","v":5100},{"d":"2016-11-13","v":5700},{"d":"2016-11-17","v":5300},{"d":"2016-11-21","v":6400},{"d":"2016-11-24","v":4600},{"d":"2016-11-28","v":5900},
{"d":"2016-12-01","v":6600},{"d":"2016-12-05","v":6200},{"d":"2016-12-09","v":7300},{"d":"2016-12-13","v":6800},{"d":"2016-12-17","v":7700},{"d":"2016-12-20","v":7000},{"d":"2016-12-22","v":8800},{"d":"2016-12-25","v":7500},{"d":"2016-12-27","v":10600},{"d":"2016-12-30","v":7800},
{"d":"2017-01-03","v":8500},{"d":"2017-01-07","v":6850},{"d":"2017-01-10","v":7800},{"d":"2017-01-14","v":7100},{"d":"2017-01-18","v":8400},{"d":"2017-01-22","v":7300},{"d":"2017-01-25","v":7800},{"d":"2017-01-29","v":7060},
{"d":"2017-02-01","v":8000},{"d":"2017-02-05","v":7200},{"d":"2017-02-08","v":8620},{"d":"2017-02-12","v":7000},{"d":"2017-02-16","v":7500},{"d":"2017-02-19","v":6720},{"d":"2017-02-23","v":7400},{"d":"2017-02-26","v":6900},
{"d":"2017-03-02","v":7280},{"d":"2017-03-06","v":6600},{"d":"2017-03-09","v":7100},{"d":"2017-03-13","v":6610},{"d":"2017-03-17","v":6900},{"d":"2017-03-21","v":6500},{"d":"2017-03-24","v":6280},{"d":"2017-03-28","v":200},
{"d":"2017-04-05","v":180},{"d":"2017-04-15","v":120},{"d":"2017-04-25","v":100},{"d":"2017-05-05","v":50},{"d":"2017-05-15","v":0},{"d":"2017-10-28","v":0},
{"d":"2017-11-05","v":100},{"d":"2017-11-14","v":380},{"d":"2017-11-16","v":3500},{"d":"2017-11-18","v":6390},{"d":"2017-11-22","v":5500},{"d":"2017-11-25","v":8000},{"d":"2017-11-27","v":4830},{"d":"2017-11-30","v":7500},
{"d":"2017-12-03","v":9500},{"d":"2017-12-06","v":11180},{"d":"2017-12-09","v":10000},{"d":"2017-12-12","v":9300},{"d":"2017-12-15","v":11000},{"d":"2017-12-17","v":11960},{"d":"2017-12-20","v":10500},{"d":"2017-12-22","v":12800},{"d":"2017-12-25","v":13620},{"d":"2017-12-27","v":12000},{"d":"2017-12-29","v":13510},
{"d":"2018-01-01","v":11800},{"d":"2018-01-03","v":11510},{"d":"2018-01-06","v":12300},{"d":"2018-01-08","v":10600},{"d":"2018-01-11","v":10400},{"d":"2018-01-14","v":11300},{"d":"2018-01-17","v":9300},{"d":"2018-01-20","v":10200},{"d":"2018-01-24","v":10850},{"d":"2018-01-27","v":9500},{"d":"2018-01-30","v":9800},
{"d":"2018-02-03","v":9100},{"d":"2018-02-08","v":8840},{"d":"2018-02-12","v":10000},{"d":"2018-02-17","v":11050},{"d":"2018-02-20","v":9600},{"d":"2018-02-23","v":9700},{"d":"2018-02-27","v":8700},
{"d":"2018-03-02","v":8840},{"d":"2018-03-06","v":9100},{"d":"2018-03-09","v":8300},{"d":"2018-03-12","v":8620},{"d":"2018-03-16","v":8900},{"d":"2018-03-19","v":8000},{"d":"2018-03-23","v":8180},{"d":"2018-03-27","v":8400},{"d":"2018-03-30","v":7600},
{"d":"2018-04-02","v":7730},{"d":"2018-04-06","v":7900},{"d":"2018-04-09","v":7200},{"d":"2018-04-13","v":7280},{"d":"2018-04-17","v":7000},{"d":"2018-04-21","v":7500},{"d":"2018-04-23","v":7100},{"d":"2018-04-25","v":0},{"d":"2018-10-31","v":0},
{"d":"2018-11-03","v":3000},{"d":"2018-11-06","v":5880},{"d":"2018-11-08","v":8000},{"d":"2018-11-10","v":4320},{"d":"2018-11-14","v":7960},{"d":"2018-11-17","v":10200},{"d":"2018-11-20","v":9000},{"d":"2018-11-23","v":12290},{"d":"2018-11-26","v":10400},{"d":"2018-11-29","v":11200},
{"d":"2018-12-02","v":9300},{"d":"2018-12-05","v":10600},{"d":"2018-12-08","v":8800},{"d":"2018-12-10","v":10700},{"d":"2018-12-13","v":9500},{"d":"2018-12-16","v":8700},{"d":"2018-12-20","v":10400},{"d":"2018-12-24","v":7500},{"d":"2018-12-27","v":10000},{"d":"2018-12-30","v":11000},
{"d":"2019-01-03","v":11510},{"d":"2019-01-06","v":10000},{"d":"2019-01-09","v":12400},{"d":"2019-01-12","v":11100},{"d":"2019-01-15","v":10400},{"d":"2019-01-19","v":9600},{"d":"2019-01-22","v":8840},{"d":"2019-01-26","v":10300},{"d":"2019-01-30","v":10400},
{"d":"2019-02-02","v":9000},{"d":"2019-02-06","v":8700},{"d":"2019-02-10","v":9600},{"d":"2019-02-13","v":8300},{"d":"2019-02-16","v":8500},{"d":"2019-02-20","v":9000},{"d":"2019-02-24","v":7900},{"d":"2019-02-28","v":8300},
{"d":"2019-03-03","v":8600},{"d":"2019-03-06","v":7700},{"d":"2019-03-10","v":8100},{"d":"2019-03-14","v":7300},{"d":"2019-03-17","v":8000},{"d":"2019-03-21","v":7700},{"d":"2019-03-25","v":7200},{"d":"2019-03-28","v":7900},
{"d":"2019-04-01","v":7500},{"d":"2019-04-04","v":6800},{"d":"2019-04-07","v":6390},{"d":"2019-04-11","v":7300},{"d":"2019-04-14","v":7000},{"d":"2019-04-16","v":7500},{"d":"2019-04-20","v":0},{"d":"2019-10-29","v":0},
{"d":"2019-10-31","v":6610},{"d":"2019-11-03","v":4500},{"d":"2019-11-06","v":9500},{"d":"2019-11-08","v":6000},{"d":"2019-11-10","v":3500},{"d":"2019-11-12","v":5000},{"d":"2019-11-14","v":3300},{"d":"2019-11-17","v":7000},{"d":"2019-11-21","v":11510},{"d":"2019-11-23","v":10000},{"d":"2019-11-25","v":12400},{"d":"2019-11-27","v":9000},{"d":"2019-11-29","v":9300},
{"d":"2019-12-01","v":11000},{"d":"2019-12-03","v":12620},{"d":"2019-12-05","v":7700},{"d":"2019-12-07","v":10400},{"d":"2019-12-09","v":9000},{"d":"2019-12-11","v":150},{"d":"2019-12-13","v":6000},{"d":"2019-12-16","v":10400},{"d":"2019-12-19","v":12000},{"d":"2019-12-22","v":10800},{"d":"2019-12-25","v":12840},{"d":"2019-12-28","v":10500},{"d":"2019-12-31","v":11400},
{"d":"2020-01-03","v":12000},{"d":"2020-01-07","v":12840},{"d":"2020-01-09","v":10400},{"d":"2020-01-11","v":10600},{"d":"2020-01-14","v":11800},{"d":"2020-01-18","v":10200},{"d":"2020-01-21","v":9800},{"d":"2020-01-24","v":9300},{"d":"2020-01-27","v":9800},{"d":"2020-01-30","v":9100},
{"d":"2020-02-03","v":9400},{"d":"2020-02-08","v":8180},{"d":"2020-02-12","v":8900},{"d":"2020-02-17","v":8400},{"d":"2020-02-20","v":9000},{"d":"2020-02-23","v":7500},{"d":"2020-02-26","v":8200},
{"d":"2020-03-01","v":7900},{"d":"2020-03-04","v":8500},{"d":"2020-03-07","v":6610},{"d":"2020-03-10","v":7800},{"d":"2020-03-14","v":7500},{"d":"2020-03-18","v":8100},{"d":"2020-03-22","v":7700},{"d":"2020-03-26","v":7300},{"d":"2020-03-31","v":6900},
{"d":"2020-04-03","v":7800},{"d":"2020-04-06","v":7800},{"d":"2020-04-09","v":7000},{"d":"2020-04-13","v":6390},{"d":"2020-04-15","v":7200},{"d":"2020-04-17","v":0},{"d":"2020-10-11","v":0},
{"d":"2020-10-13","v":5000},{"d":"2020-10-16","v":7280},{"d":"2020-10-18","v":4400},{"d":"2020-10-20","v":4160},{"d":"2020-10-22","v":7500},{"d":"2020-10-24","v":6170},{"d":"2020-10-27","v":3800},{"d":"2020-10-29","v":4800},
{"d":"2020-11-02","v":8400},{"d":"2020-11-04","v":6000},{"d":"2020-11-06","v":4160},{"d":"2020-11-08","v":5300},{"d":"2020-11-10","v":4800},{"d":"2020-11-12","v":2000},{"d":"2020-11-14","v":0},{"d":"2020-11-18","v":0},{"d":"2020-11-22","v":200},{"d":"2020-11-24","v":400},{"d":"2020-11-27","v":5000},{"d":"2020-11-29","v":9300},
{"d":"2020-12-01","v":12000},{"d":"2020-12-03","v":15150},{"d":"2020-12-05","v":11500},{"d":"2020-12-07","v":13730},{"d":"2020-12-09","v":10500},{"d":"2020-12-11","v":9700},{"d":"2020-12-13","v":11000},{"d":"2020-12-15","v":10800},{"d":"2020-12-17","v":8500},{"d":"2020-12-19","v":7500},{"d":"2020-12-22","v":9200},{"d":"2020-12-24","v":8000},{"d":"2020-12-28","v":9300},
{"d":"2021-01-01","v":8840},{"d":"2021-01-03","v":11500},{"d":"2021-01-05","v":12400},{"d":"2021-01-07","v":10000},{"d":"2021-01-09","v":10400},{"d":"2021-01-11","v":8800},{"d":"2021-01-13","v":10700},{"d":"2021-01-16","v":9000},{"d":"2021-01-18","v":8840},{"d":"2021-01-20","v":10200},{"d":"2021-01-22","v":9700},{"d":"2021-01-24","v":8600},{"d":"2021-01-26","v":7950},{"d":"2021-01-28","v":9000},{"d":"2021-01-30","v":8400},
{"d":"2021-02-03","v":8800},{"d":"2021-02-06","v":9300},{"d":"2021-02-09","v":7800},{"d":"2021-02-12","v":9200},{"d":"2021-02-15","v":8000},{"d":"2021-02-17","v":8600},{"d":"2021-02-19","v":7400},{"d":"2021-02-21","v":8200},{"d":"2021-02-23","v":7600},{"d":"2021-02-25","v":6900}
]},
"mark": {"type": "line", "color": "#4e7fbc", "strokeWidth": 2, "interpolate": "linear"},
"encoding": {
"x": {"field": "d", "type": "temporal",
 "scale": {"type": "utc", "domain": [{"year": 2008, "month": 1, "date": 1, "utc": true}, {"year": 2022, "month": 1, "date": 1, "utc": true}]},
 "axis": {"title": null,
  "values": [{"year":2008,"utc":true},{"year":2009,"utc":true},{"year":2010,"utc":true},{"year":2011,"utc":true},{"year":2012,"utc":true},{"year":2013,"utc":true},{"year":2014,"utc":true},{"year":2015,"utc":true},{"year":2016,"utc":true},{"year":2017,"utc":true},{"year":2018,"utc":true},{"year":2019,"utc":true},{"year":2020,"utc":true},{"year":2021,"utc":true},{"year":2022,"utc":true}]}},
"y": {"field": "v", "type": "quantitative",
 "scale": {"domain": [0, 30000], "nice": false},
 "axis": {"title": "Production mcfd"}}
}
},
{
"data": {"values": [{"note": "box"}]},
"mark": {"type": "rect", "fill": "white", "stroke": "#8eaacb", "strokeWidth": 4.5},
"encoding": {
"x": {"datum": {"year": 2013, "month": 11, "date": 22, "utc": true}, "type": "temporal"},
"x2": {"datum": {"year": 2022, "month": 6, "date": 1, "utc": true}},
"y": {"datum": 28020, "type": "quantitative"},
"y2": {"datum": 16470}
}
},
{
"data": {"values": [{"note": "Average year over year\ndecline since intermittent\nproduction implemented is\n4.2% per year"}]},
"mark": {"type": "text", "align": "left", "baseline": "alphabetic", "font": "DejaVu Sans", "fontSize": 29, "lineHeight": 45, "lineBreak": "\n", "color": "#000000"},
"encoding": {
"x": {"datum": {"year": 2014, "month": 3, "date": 26, "utc": true}, "type": "temporal"},
"y": {"datum": 25870, "type": "quantitative"},
"text": {"field": "note", "type": "nominal"}
}
}
]
}
